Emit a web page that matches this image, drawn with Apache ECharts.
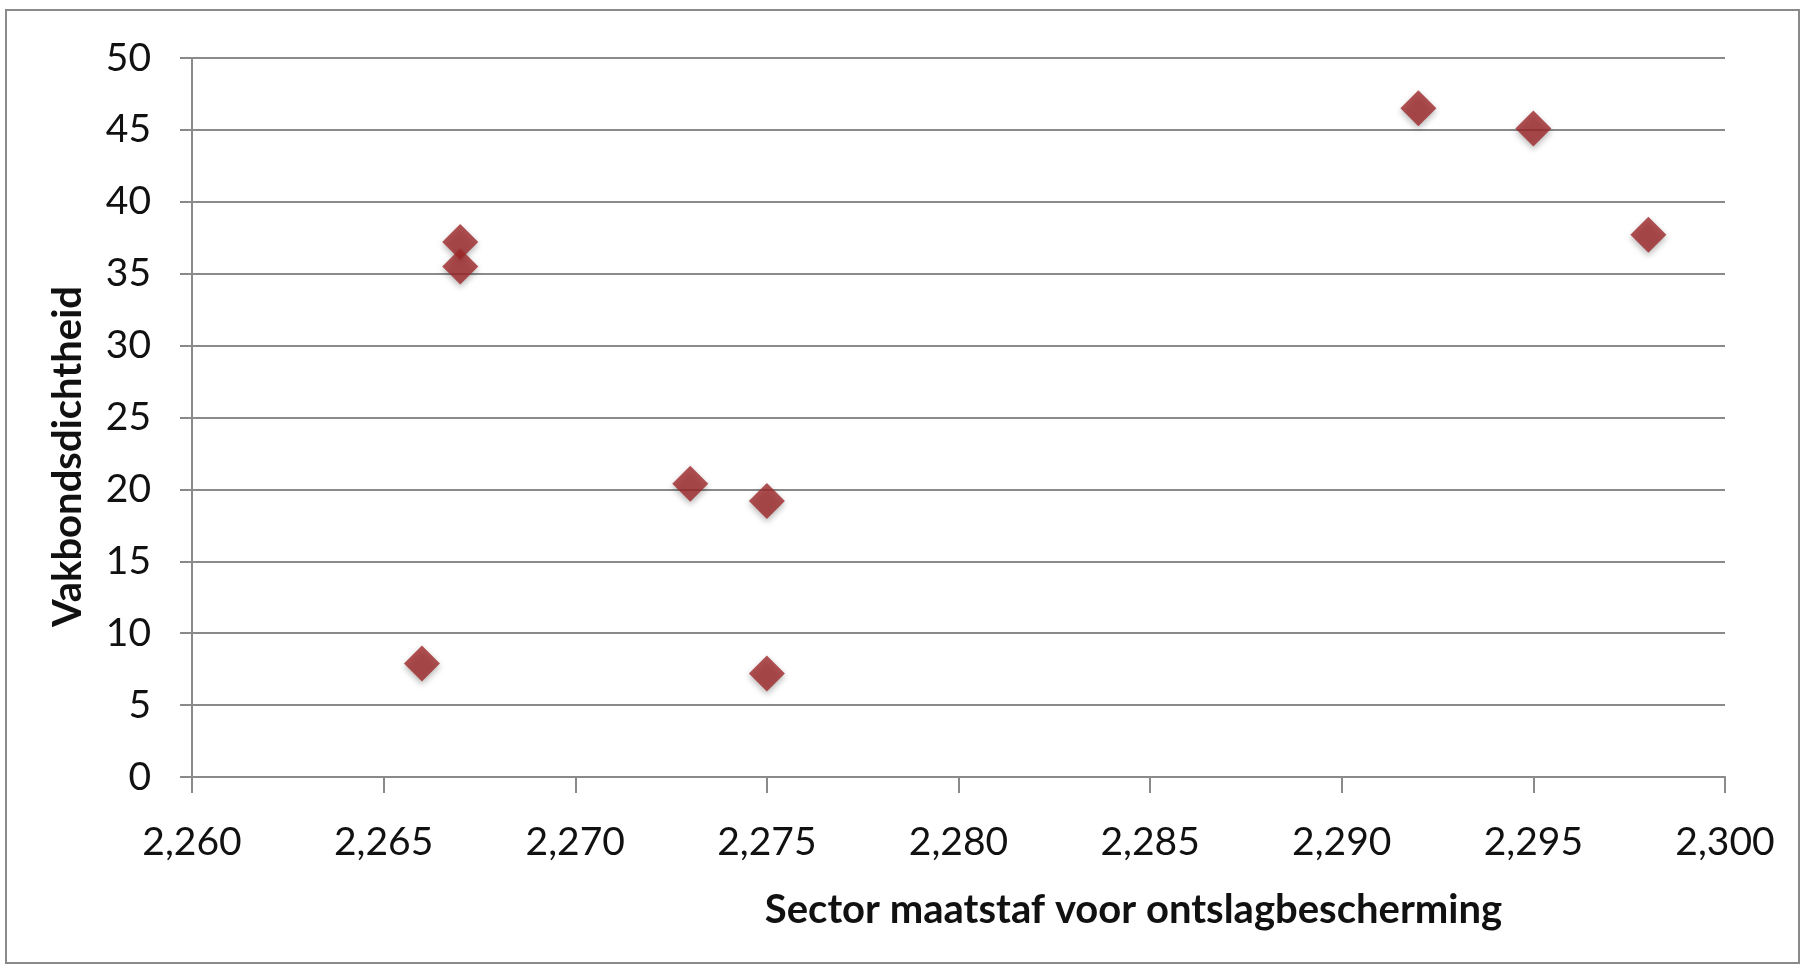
<!DOCTYPE html>
<html>
<head>
<meta charset="utf-8">
<script src="https://cdn.jsdelivr.net/npm/echarts@6/dist/echarts.min.js"></script>
<style>
html, body { margin: 0; padding: 0; background: #fff; }
#main { width: 1802px; height: 965px; }
</style>
</head>
<body>
<div id="main"></div>
<script>
// sector values (x) and union density (y)
var sectorX = [2.266, 2.267, 2.267, 2.273, 2.275, 2.275, 2.292, 2.295, 2.298];
var densityY = [7.9, 37.2, 35.5, 20.4, 19.2, 7.2, 46.5, 45.1, 37.7];
var xTitle = 'Sector maatstaf voor ontslagbescherming';
var yTitle = 'Vakbondsdichtheid';

var chart = echarts.init(document.getElementById('main'));
var pts = sectorX.map(function (x, i) { return [x, densityY[i]]; });
var font = 'Lato, "Open Sans", sans-serif';

var option = {
    animation: false,
    backgroundColor: '#fff',
    graphic: [{
        type: 'rect',
        shape: { x: 6, y: 10, width: 1793, height: 953 },
        style: { fill: 'none', stroke: '#8a8a8a', lineWidth: 2 },
        silent: true
    }],
    grid: { left: 192, right: 77, top: 58, bottom: 188 },
    xAxis: {
        type: 'value',
        min: 2.26,
        max: 2.30,
        interval: 0.005,
        name: xTitle,
        nameLocation: 'middle',
        nameGap: 113,
        nameTextStyle: { fontFamily: font, fontSize: 40, fontWeight: 'bold', color: '#111', padding: [0, 0, 0, 350] },
        axisLine: { show: true, onZero: false, lineStyle: { color: '#8a8a8a', width: 2 } },
        axisTick: { show: true, length: 16, lineStyle: { color: '#8a8a8a', width: 2 } },
        splitLine: { show: false },
        axisLabel: {
            margin: 46,
            fontFamily: font, fontSize: 39, color: '#111',
            formatter: function (v) { return v.toFixed(3).replace('.', ','); }
        }
    },
    yAxis: {
        type: 'value',
        min: 0,
        max: 50,
        interval: 5,
        name: yTitle,
        nameLocation: 'middle',
        nameGap: 104,
        nameTextStyle: { fontFamily: font, fontSize: 40, fontWeight: 'bold', color: '#111', padding: [0, 78, 0, 0] },
        axisLine: { show: true, lineStyle: { color: '#8a8a8a', width: 2 } },
        axisTick: { show: true, length: 12, lineStyle: { color: '#8a8a8a', width: 2 } },
        splitLine: { show: true, lineStyle: { color: '#8a8a8a', width: 2 } },
        axisLabel: { margin: 41, fontFamily: font, fontSize: 39, color: '#111' }
    },
    series: [{
        type: 'scatter',
        data: pts,
        symbol: 'diamond',
        symbolSize: 36,
        itemStyle: {
            color: '#9e2829',
            shadowBlur: 6,
            shadowColor: 'rgba(0,0,0,0.35)',
            shadowOffsetY: 3
        }
    }]
};
chart.setOption(option);
</script>
</body>
</html>
